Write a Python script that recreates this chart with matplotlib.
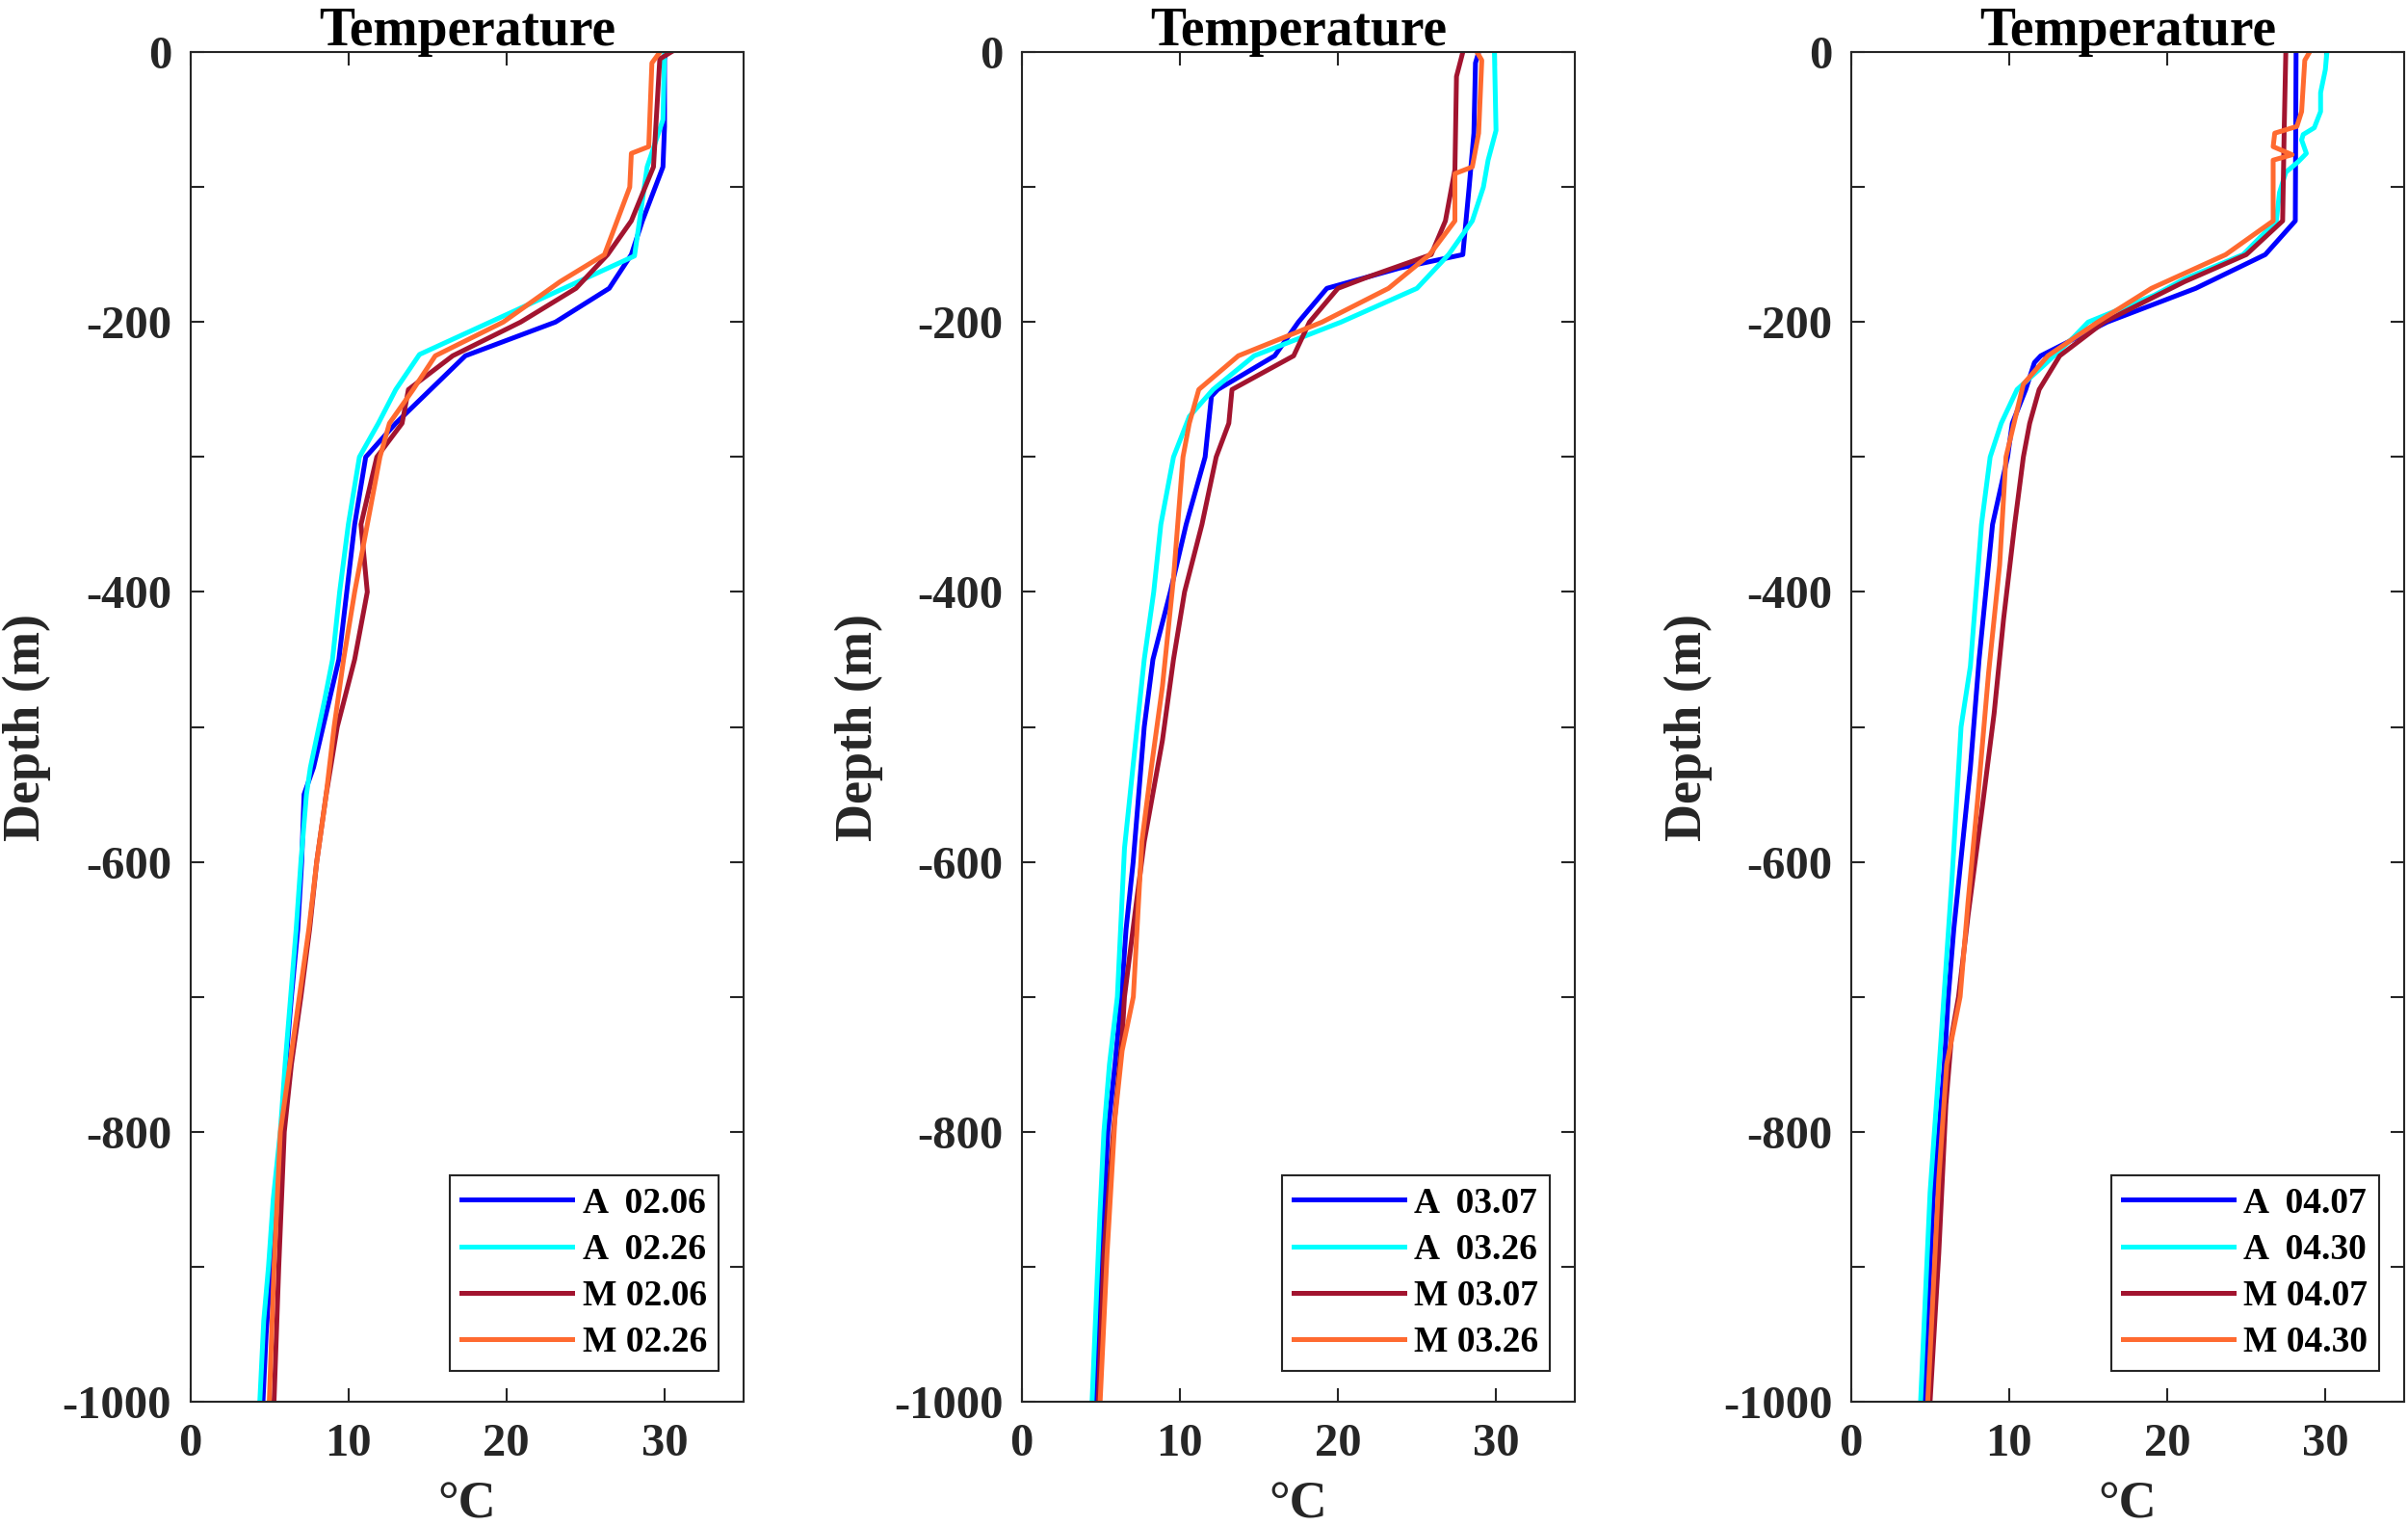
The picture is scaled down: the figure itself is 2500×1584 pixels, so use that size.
import matplotlib
matplotlib.use("Agg")
import matplotlib.pyplot as plt
import numpy as np

plt.rcParams["font.family"] = ["Liberation Serif", "DejaVu Serif"]
plt.rcParams["font.weight"] = "bold"

# colours used for the four profiles in every panel
COLORS = ["#0000FF", "#00FFFF", "#A2142F", "#FF6A30"]

# ---- panel 1 (February) ----
p1_labels = ["A  02.06", "A  02.26", "M 02.06", "M 02.26"]
p1_a1_depth = [0, -5, -55, -85, -125, -150, -175, -200, -225, -250, -275, -300, -350, -400,
               -450, -470, -530, -550, -600, -650, -700, -750, -800, -850, -900, -950, -1000]
p1_a1_temp = [30.1, 30.0, 30.0, 29.9, 28.6, 27.9, 26.5, 23.1, 17.4, 15.2, 13.0, 11.1, 10.4, 9.9,
              9.4, 9.0, 7.8, 7.2, 7.05, 6.8, 6.4, 6.05, 5.75, 5.5, 5.1, 4.8, 4.6]
p1_a2_depth = [0, -50, -85, -151, -224, -250, -275, -300, -350, -400, -450, -480, -530, -550,
               -600, -650, -700, -750, -800, -850, -900, -940, -1000]
p1_a2_temp = [30.0, 29.9, 28.9, 28.1, 14.5, 13.0, 11.9, 10.7, 10.0, 9.45, 9.0, 8.5, 7.6, 7.35,
              7.0, 6.7, 6.35, 6.0, 5.7, 5.25, 4.95, 4.65, 4.4]
p1_m1_depth = [0, -5, -85, -125, -150, -175, -200, -225, -250, -275, -300, -350, -400, -450,
               -500, -550, -600, -650, -700, -750, -800, -900, -1000]
p1_m1_temp = [30.4, 29.7, 29.3, 27.9, 26.4, 24.4, 20.9, 16.6, 13.8, 13.4, 11.8, 10.8, 11.2, 10.4,
              9.3, 8.6, 8.0, 7.55, 7.0, 6.4, 5.95, 5.6, 5.3]
p1_m2_depth = [0, -8, -70, -75, -100, -125, -150, -170, -200, -225, -250, -275, -300, -350,
               -400, -450, -500, -550, -600, -650, -700, -750, -800, -900, -1000]
p1_m2_temp = [29.7, 29.2, 29.0, 27.9, 27.8, 27.0, 26.2, 23.4, 19.8, 15.5, 14.1, 12.6, 12.0, 11.2,
              10.4, 9.7, 9.1, 8.6, 8.0, 7.5, 6.9, 6.3, 5.7, 5.3, 5.0]

# ---- panel 2 (March) ----
p2_labels = ["A  03.07", "A  03.26", "M 03.07", "M 03.26"]
p2_a1_depth = [0, -8, -60, -100, -150, -160, -175, -200, -225, -250, -255, -300, -350, -400,
               -450, -500, -550, -600, -650, -700, -750, -800, -900, -1000]
p2_a1_temp = [28.9, 28.7, 28.6, 28.3, 27.9, 23.9, 19.3, 17.5, 16.0, 12.4, 12.0, 11.6, 10.4, 9.4,
              8.3, 7.75, 7.4, 7.05, 6.6, 6.3, 5.9, 5.45, 5.0, 4.7]
p2_a2_depth = [0, -58, -80, -100, -125, -150, -175, -200, -225, -250, -270, -300, -350, -400,
               -450, -500, -590, -700, -750, -800, -860, -1000]
p2_a2_temp = [29.9, 30.0, 29.5, 29.2, 28.5, 27.0, 25.0, 20.2, 14.7, 12.1, 10.6, 9.6, 8.8, 8.35,
              7.75, 7.3, 6.5, 6.05, 5.55, 5.2, 4.95, 4.45]
p2_m1_depth = [0, -18, -87, -125, -150, -167, -175, -200, -225, -250, -275, -300, -350, -400,
               -450, -510, -585, -635, -700, -730, -800, -890, -1000]
p2_m1_temp = [27.9, 27.5, 27.4, 26.8, 25.9, 21.8, 20.0, 18.2, 17.2, 13.3, 13.1, 12.3, 11.4, 10.3,
              9.6, 8.9, 7.75, 7.2, 6.5, 6.35, 5.8, 5.2, 4.85]
p2_m2_depth = [0, -6, -60, -85, -90, -125, -150, -175, -200, -225, -250, -275, -300, -390,
               -470, -530, -585, -700, -740, -790, -890, -1000]
p2_m2_temp = [28.8, 29.1, 28.9, 28.5, 27.4, 27.4, 25.8, 23.2, 19.0, 13.7, 11.2, 10.6, 10.2, 9.6,
              8.9, 8.2, 7.6, 7.06, 6.35, 5.9, 5.4, 4.96]

# ---- panel 3 (April) ----
p3_labels = ["A  04.07", "A  04.30", "M 04.07", "M 04.30"]
p3_a1_depth = [0, -125, -150, -175, -200, -225, -230, -250, -275, -300, -350, -450, -530, -650,
               -700, -750, -850, -1000]
p3_a1_temp = [28.15, 28.1, 26.2, 21.8, 16.2, 12.0, 11.6, 11.05, 10.2, 9.9, 8.95, 8.1, 7.55, 6.5,
              6.15, 5.9, 5.2, 4.6]
p3_a2_depth = [0, -13, -30, -44, -56, -61, -65, -75, -81, -89, -104, -125, -150, -168, -180,
               -200, -211, -232, -250, -275, -300, -350, -455, -500, -610, -730, -845, -1000]
p3_a2_temp = [30.1, 30.0, 29.7, 29.7, 29.3, 28.6, 28.5, 28.8, 28.3, 27.5, 27.1, 26.9, 24.8, 21.1,
              19.2, 15.0, 14.1, 12.2, 10.5, 9.5, 8.8, 8.25, 7.55, 6.96, 6.4, 5.7, 5.0, 4.4]
p3_m1_depth = [0, -56, -125, -150, -170, -200, -225, -250, -275, -300, -350, -420, -490, -555,
               -640, -700, -730, -780, -890, -1000]
p3_m1_temp = [27.5, 27.4, 27.3, 25.0, 21.1, 16.0, 13.2, 11.9, 11.3, 10.9, 10.35, 9.65, 9.05, 8.35,
              7.4, 6.8, 6.35, 6.0, 5.55, 5.0]
p3_m2_depth = [0, -6, -44, -55, -60, -70, -76, -80, -125, -150, -175, -200, -225, -246, -300,
               -380, -460, -555, -630, -700, -750, -835, -1000]
p3_m2_temp = [29.0, 28.7, 28.5, 28.2, 26.8, 26.7, 27.9, 26.7, 26.7, 23.7, 19.0, 15.6, 12.45, 10.9,
              9.8, 9.4, 8.7, 8.0, 7.4, 6.9, 6.05, 5.55, 4.85]

x_ticks = [0, 10, 20, 30]
y_ticks = list(range(-1000, 1, 100))
y_tick_labels = [str(v) if v % 200 == 0 else "" for v in y_ticks]

panels = [
    (p1_labels, [(p1_a1_temp, p1_a1_depth), (p1_a2_temp, p1_a2_depth),
                 (p1_m1_temp, p1_m1_depth), (p1_m2_temp, p1_m2_depth)]),
    (p2_labels, [(p2_a1_temp, p2_a1_depth), (p2_a2_temp, p2_a2_depth),
                 (p2_m1_temp, p2_m1_depth), (p2_m2_temp, p2_m2_depth)]),
    (p3_labels, [(p3_a1_temp, p3_a1_depth), (p3_a2_temp, p3_a2_depth),
                 (p3_m1_temp, p3_m1_depth), (p3_m2_temp, p3_m2_depth)]),
]

AX_LEFTS = [0.0790, 0.4243, 0.7687]
AX_WIDTH = 0.2298
AX_BOTTOM = 0.0815
AX_HEIGHT = 0.8843
DARK = "#262626"

fig = plt.figure(figsize=(25, 15.84), dpi=100)

for left, (labels, series) in zip(AX_LEFTS, panels):
    ax = fig.add_axes([left, AX_BOTTOM, AX_WIDTH, AX_HEIGHT])
    for (temp, depth), color, label in zip(series, COLORS, labels):
        ax.plot(np.array(temp), np.array(depth), color=color, linewidth=3.6, label=label)

    ax.set_xlim(0, 35)
    ax.set_ylim(-1000, 0)
    ax.set_xticks(x_ticks)
    ax.set_yticks(y_ticks)
    ax.set_yticklabels(y_tick_labels)
    ax.tick_params(direction="in", length=10, width=1.5, colors=DARK,
                   top=True, right=True, labelsize=35)
    ax.tick_params(axis="x", pad=16)
    ax.tick_params(axis="y", pad=14)
    for spine in ax.spines.values():
        spine.set_linewidth(1.5)
        spine.set_color(DARK)

    ax.set_title("Temperature", fontsize=40, fontweight="bold", pad=5, color="black")
    ax.set_ylabel("Depth (m)", fontsize=39, fontweight="bold", labelpad=8, color=DARK)
    ax.set_xlabel("°C", fontsize=39, fontweight="bold", labelpad=12, color=DARK)

    leg = ax.legend(loc="lower right", bbox_to_anchor=(0.9547, 0.0228), borderaxespad=0,
                    handlelength=3.07, handletextpad=0.27, labelspacing=0.35, borderpad=0.32,
                    fancybox=False, framealpha=1, edgecolor=DARK,
                    prop={"weight": "bold", "size": 27})
    leg.get_frame().set_linewidth(1.5)

fig.savefig("out.png", dpi=100)
plt.close(fig)
